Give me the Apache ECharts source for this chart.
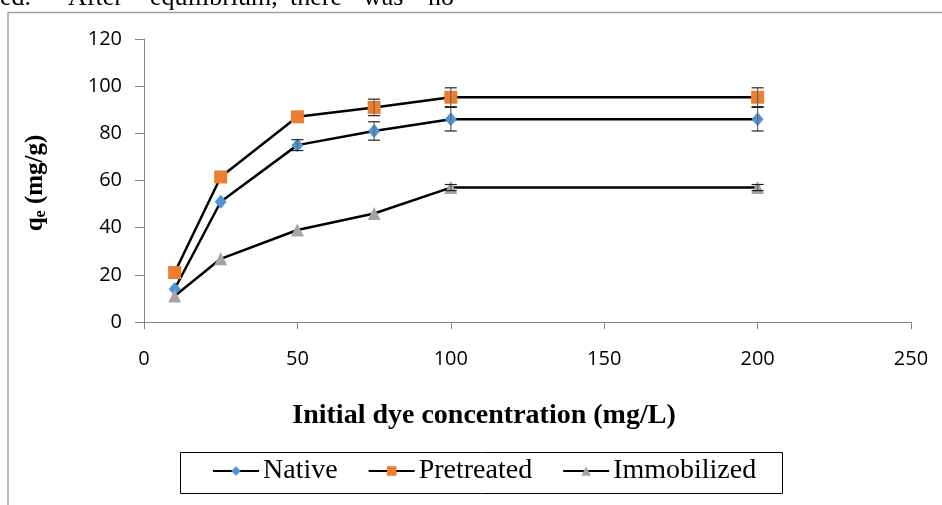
<!DOCTYPE html>
<html>
<head>
<meta charset="utf-8">
<script src="https://cdn.jsdelivr.net/npm/echarts@6/dist/echarts.min.js"></script>
<style>
html,body{margin:0;padding:0;background:#fff;}
#chart{width:942px;height:505px;}
</style>
</head>
<body>
<div id="chart"></div>
<script>
// ---- data ----
const xValues = [10, 25, 50, 75, 100, 200];
const native = [14, 51, 75, 81, 86, 86];
const pretreated = [21, 61.5, 87, 91, 95.3, 95.3];
const immobilized = [11, 26.8, 39, 46, 57, 57];
const nativeErr = [0, 0, 2.3, 3.9, 5, 5];
const pretreatedErr = [0, 0, 0, 3.5, 4, 4];
const immobilizedErr = [0, 0, 0, 0, 1.3, 1.3];
const seriesNames = ['Native', 'Pretreated', 'Immobilized'];
const xTicks = [0, 50, 100, 150, 200, 250];
const yTicks = [0, 20, 40, 60, 80, 100, 120];
const topWords = ['ed.', 'After', 'equilibrium,', 'there', 'was', 'no'];
const topWordX = [0, 68, 150, 290, 363, 428];

const chart = echarts.init(document.getElementById('chart'));

function pairs(ys) { return xValues.map((x, i) => [x, ys[i]]); }
function triples(ys, es) { return xValues.map((x, i) => [x, ys[i], es[i]]); }

function errRender(params, api) {
  const x = api.value(0), v = api.value(1), e = api.value(2);
  if (!e) return null;
  const t = api.coord([x, v + e]);
  const b = api.coord([x, v - e]);
  const hw = 6;
  const st = { stroke: '#222', lineWidth: 1.2 };
  return {
    type: 'group',
    children: [
      { type: 'line', shape: { x1: t[0], y1: t[1], x2: b[0], y2: b[1] }, style: { stroke: '#666', lineWidth: 1.2 } },
      { type: 'line', shape: { x1: t[0] - hw, y1: t[1], x2: t[0] + hw, y2: t[1] }, style: st },
      { type: 'line', shape: { x1: b[0] - hw, y1: b[1], x2: b[0] + hw, y2: b[1] }, style: st }
    ]
  };
}

const markerColors = ['#4F94D4', '#ED7D31', '#A5A5A5'];
const symbols = ['diamond', 'rect', 'triangle'];
const symbolSizes = [[12, 14], 13, 13];
const lineData = [native, pretreated, immobilized];
const errData = [nativeErr, pretreatedErr, immobilizedErr];

const series = [];
for (let k = 0; k < 3; k++) {
  series.push({
    name: seriesNames[k],
    type: 'line',
    data: pairs(lineData[k]),
    symbol: symbols[k],
    symbolSize: symbolSizes[k],
    showAllSymbol: true,
    lineStyle: { color: '#000', width: 2.5 },
    itemStyle: { color: markerColors[k], borderWidth: 0 },
    z: 3
  });
}
for (let k = 0; k < 3; k++) {
  series.push({
    name: seriesNames[k] + ' error',
    type: 'custom',
    data: triples(lineData[k], errData[k]),
    renderItem: errRender,
    z: 5,
    silent: true
  });
}

const graphics = [
  { type: 'polyline', shape: { points: [[8, 505], [8, 12.5], [942, 12.5]] }, style: { stroke: '#a0a0a0', lineWidth: 1.5, fill: null } },
  { type: 'rect', shape: { x: 180.5, y: 452.5, width: 602, height: 41 }, style: { stroke: '#000', lineWidth: 1, fill: null } },
  {
    type: 'text', x: 484, y: 416,
    style: { text: 'Initial dye concentration (mg/L)', font: 'bold 28px "Liberation Serif"', fill: '#000', align: 'center', verticalAlign: 'middle' }
  },
  {
    type: 'text', x: 36, y: 183, rotation: Math.PI / 2,
    style: {
      text: '{q|q}{e|e}{q| (mg/g)}', align: 'center', verticalAlign: 'middle',
      rich: {
        q: { fontFamily: 'Liberation Serif', fontWeight: 'bold', fontSize: 25, lineHeight: 25, verticalAlign: 'bottom', fill: '#000', color: '#000' },
        e: { fontFamily: 'Liberation Serif', fontWeight: 'bold', fontSize: 16, lineHeight: 10, verticalAlign: 'bottom', fill: '#000', color: '#000' }
      }
    }
  }
];
topWords.forEach((w, i) => {
  graphics.push({ type: 'text', x: topWordX[i], y: -2, style: { text: w, font: '26px "Liberation Serif"', fill: '#000', align: 'left', verticalAlign: 'middle' } });
});

chart.setOption({
  animation: false,
  backgroundColor: '#fff',
  grid: { left: 144, right: 31, top: 39, bottom: 183, containLabel: false },
  xAxis: {
    type: 'value', min: xTicks[0], max: xTicks[xTicks.length - 1], interval: 50,
    axisLine: { show: true, lineStyle: { color: '#868686', width: 1 } },
    axisTick: { show: true, length: 7, lineStyle: { color: '#868686' } },
    axisLabel: { margin: 27, color: '#000', fontFamily: 'Open Sans', fontSize: 20 },
    splitLine: { show: false }
  },
  yAxis: {
    type: 'value', min: yTicks[0], max: yTicks[yTicks.length - 1], interval: 20,
    axisLine: { show: true, lineStyle: { color: '#868686', width: 1 } },
    axisTick: { show: true, length: 9, lineStyle: { color: '#868686' } },
    axisLabel: { margin: 22, color: '#000', fontFamily: 'Open Sans', fontSize: 20 },
    splitLine: { show: false }
  },
  legend: {
    data: seriesNames,
    left: 212, top: 457,
    itemWidth: 46, itemHeight: 12, itemGap: 30,
    textStyle: { fontFamily: 'Liberation Serif', fontSize: 28, color: '#000', padding: [0, 0, 0, -1] },
    padding: 0
  },
  graphic: graphics,
  series: series
});
</script>
</body>
</html>
